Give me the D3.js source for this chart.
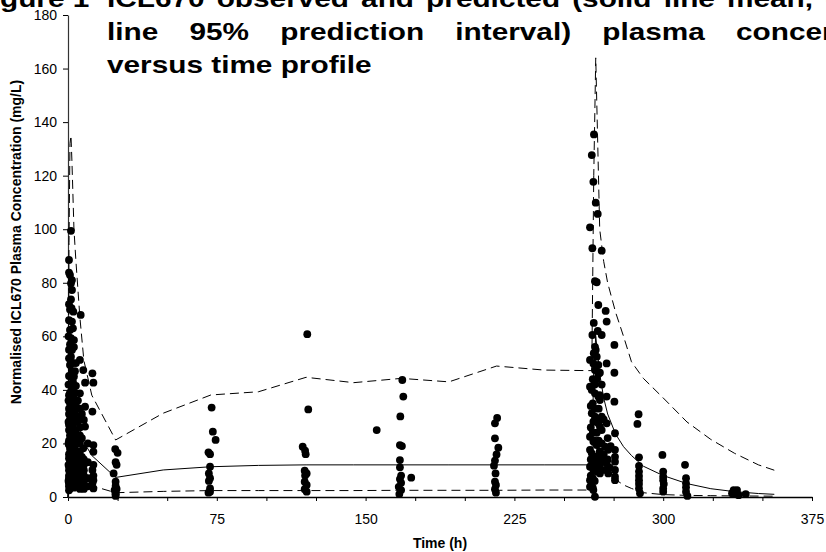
<!DOCTYPE html>
<html>
<head>
<meta charset="utf-8">
<script src="https://cdn.jsdelivr.net/npm/d3@7"></script>
<style>
  body { margin: 0; background: #fff; }
  text { font-family: "Liberation Sans", Arial, sans-serif; }
</style>
</head>
<body>
<script>
// chart size
var width = 826, height = 552;
var plotLeft = 68, plotRight = 812, plotTop = 15, plotBottom = 497;

// axis ticks
var xTicks = d3.range(0, 376, 25);
var xLabelEvery = 75;
var yTicks = d3.range(0, 181, 20);

// model prediction (mean and 95% prediction interval)
var predTime  = [0, 0.5, 1, 1.5, 2, 3, 4, 6, 8, 12, 24, 48, 72, 96, 120, 144, 168, 192, 216, 240,
                 262, 264, 265, 266, 268, 270, 272, 276, 280, 284, 290, 300, 312, 324, 336, 348, 356];
var predMean  = [0, 30, 42, 45, 43, 37, 32, 25, 20.5, 15.5, 7.3, 10.1, 11.3, 11.8, 12, 12, 12, 12, 12, 12,
                 12, 12, 48, 60, 46, 37, 31, 23.5, 18.8, 15.5, 11.5, 8, 5, 3.1, 2, 1.3, 1.0];
var predLower = [0, 5, 7, 8, 8, 7.5, 7, 5.8, 5, 4.2, 1.6, 2.1, 2.4, 2.4, 2.4, 2.4, 2.5, 2.5, 2.5, 2.6,
                 2.6, 2.6, 18, 22, 13, 10.5, 9, 6.5, 4.5, 3.2, 1.6, 0.9, 0.6, 0.5, 0.4, 0.35, 0.3];
var predUpper = [0, 95, 132, 135, 125, 100, 88, 67, 51, 38, 21.3, 31.3, 38.1, 39.3, 44.7, 42.7, 44.3, 43, 48.9, 47.4,
                 47.2, 47.2, 120, 164, 100, 88, 80, 69, 60, 50.5, 44.3, 37, 28, 21.5, 16.3, 12, 10];

// observed concentrations [time (h), conc (mg/L)]
var obsFirstDose = [
  [0.5,88.5],[0.5,83.8],[1,82.9],[0.5,72],[0.5,66],[1,62.4],[0.5,55],[0.5,51.8],[1,49.3],[0.5,45.2],
  [0.5,38],[1,35],[0.5,33],[0.5,31],[1,29],[0.5,27],[0.5,25],[1,23],[0.5,21],[0.5,19.5],[1,18],
  [0.5,16],[0.5,14.5],[1,13],[0.5,11.5],[0.5,10],[1,9],[0.5,8],[0.5,7],[1,6],[0.5,5],[0.5,4],[1,3.2],[0.5,2.5],
  [0.25,60],[0.25,42],[0.25,36],[0.25,28],[0.25,20],[0.25,12],[0.25,6],[1,70],[1,57],[1,42],[1,39],
  [1,26],[1,21],[1,16],[1,11],[1,7.5],[1,4.5],
  [1.5,99.4],[2,81],[1.5,79.8],[2,77.3],[1.5,73.8],[1.8,70.5],[2,65.5],[1.5,59.3],[2,54.9],[1.5,52.4],
  [2,47],[1.5,44.9],[2,40],[1.5,36],[2,33.5],[1.5,31],[2,28],[1.5,26],[2,24],[1.5,22],[2,20],[1.5,17.5],
  [2,15],[1.5,13],[2,11],[1.5,9.5],[2,8],[1.5,6.5],[2,5],[1.5,3.8],
  [2.5,63],[2.5,50],[2.5,43],[2.5,35],[2.5,27],[2.5,20],[2.5,14],[2.5,9],[2.5,4],
  [2.7,69.2],[3,58.6],[3,56],[4,50],[3,45],[4,41.5],[3,37],[4,34],[3,32],[4,30],[3,28],[4,25],[3,23],
  [4,21],[3,19],[4,17],[3,15],[4,13.5],[3,12],[4,10.5],[3,9],[4,7.5],[3,6],[4,4.5],[3,3.5],
  [3.5,47],[3.5,39],[3.5,31],[3.5,24],[3.5,18],[3.5,11],[3.5,6],
  [5,36],[5,28],[5,22],[5,16],[5,9],[5,5],
  [6.4,68],[6,51.2],[6,38.7],[6,33],[6,30],[6,26],[6,23],[6,20],[6,17],[6,14],[6,12],[6,10],[6,8],[6,6],[6,4.5],[6,3],
  [7,31],[7,22],[7,15],[7,9],[7,5],
  [7.7,47.4],[8.6,42.7],[8.6,33.7],[8,28.8],[8.6,26.3],[7.7,18.2],[8,14],[8,12],[8,10],[8,8],[8,6],[8,4],[8,3],
  [10,20],[10,13],[10,7],[10,4],
  [12.3,46.2],[12.8,42.7],[12.3,31.9],[12.8,19.4],[12.8,16.9],[12.8,12],[12.3,10.1],[12.8,8],[12.8,6.3],[12.3,5.1],[12.8,3.2]
];
var obsTroughs = [
  [23.8,17.9],[25,16.5],[24,13],[24.5,12],[23,8.8],[24,5.7],[24,4.1],[23.5,2.6],[24,1.4],[24,0.4],[24.5,3],[24,1],
  [72.4,33.4],[73,24.4],[74.4,21.3],[70.8,16.7],[71.6,16],[71.6,11.3],[71,8.8],[71.6,7],[71,6],[71.6,3.2],[71.6,2],[70.8,1.6],
  [120.6,60.8],[121.1,32.7],[118.3,18.8],[119.5,17.3],[119.8,16],[119.3,9.8],[120.3,8.8],[119.5,8],[119.3,5.7],[120.3,4.5],[119.3,2.9],[120.3,2],
  [155.6,25],
  [168.5,43.7],[169,37.5],[167.5,30.1],[167.3,19.4],[168.3,19],[167.3,13.8],[167.3,11.1],[167.9,8],[167.3,6.7],[167.9,5.3],[166.7,3.8],[167.9,2.6],[167,1.1],
  [173,7.2],
  [216.3,29.5],[215.2,27.5],[215.2,21.9],[216.9,18.4],[216,15.9],[215.2,13.6],[214.7,11.7],[215.5,8.8],[215.2,5.7],[215.7,4.5],[215.2,2.9],[215.7,1.6]
];
var obsSecondDose = [
  [265.1,135.4],[264,127.7],[264.8,117.7],[266,109.9],[267,105.7],[263.1,100.7],[264.3,92.9],[269,92],
  [265.6,80.6],[266.5,80.2],[267.3,71.7],[271,69.5],[271.5,65.5],[264.3,60.5],[269,60.5],[265.6,56.1],
  [266,54.9],[265,53.7],[266.5,52.4],[275.4,56.8],[263.1,51.2],[264.8,49.9],[267.3,49.3],[265.6,47.4],
  [268.1,46.4],[267.3,45.9],[271.5,49.9],[275.4,46.4],[263.1,41.2],[264,40],[265.6,38.7],[267.3,37.5],
  [268.1,36.2],[271.5,37.5],[275.4,35.6],[268,38],[264,31.3],[265.6,30],[264.8,28.1],[267.3,27.5],[268.1,26.3],
  [271.5,27.5],[269,30],[263.1,22.5],[264.8,20.7],[266.5,19.4],[269,20],[270.7,18.8],[272.3,17.6],
  [275.7,23.8],[263.1,17.6],[264,16.3],[265.6,15],[267.3,13.8],[269.8,15],[271.5,12.6],[275.7,17.6],
  [275.7,15],[275.7,13.2],[263.1,11.3],[264.8,10.1],[266.5,9.5],[268.1,8.8],[270.7,10.1],[272.3,8.8],
  [275.7,10.1],[275.7,7.6],[275.7,6.3],[263.1,6.3],[264,5.1],[263.1,3.8],[264.8,2.6],[265.6,0.1],
  [263.5,34],[263.5,26],[263.5,14],[263.5,8],[264.5,44],[264.5,35],[264.5,24],[264.5,12.5],[264.5,7],[264.5,3.5],
  [265,65],[265.5,42],[265.5,33],[265.5,21],[265.5,11],[265.5,6],[266.5,44],[266.5,29],[266.5,24],[266.5,15],
  [266.5,12],[267,62],[267.5,33],[267.5,21],[268,17],[268,11],[269,42],[269,25],[269,13],[270,29],[270,16],
  [272,22],[272,14],[273,11],[273.5,19]
];
var obsWashout = [
  [287.6,30.9],[287,27.3],[287.8,14.8],[287.8,11.6],[287.8,9.5],[287.8,7.8],[287.8,6.3],[287.8,4.9],[287.8,3.2],[288.3,1.4],
  [299.6,15.7],[300,9.5],[300,7.6],[300,6.3],[300.3,4.9],[300,3.2],[300,2],
  [311,12],[311.5,7],[311.5,5.1],[311.5,3.6],[311.5,2],[312.2,0.4],
  [335.5,2.6],[337.2,2.6],[334.7,1.4],[336.4,1.4],[338,0.7],[341.6,1.1]
];

var svg = d3.select("body").append("svg")
    .attr("width", width)
    .attr("height", height);

svg.append("rect").attr("width", width).attr("height", height).attr("fill", "#fff");

var x = d3.scaleLinear().domain([0, 375]).range([plotLeft, plotRight]);
var y = d3.scaleLinear().domain([0, 180]).range([plotBottom, plotTop]);

// axes
var xAxis = d3.axisBottom(x)
    .tickValues(xTicks)
    .tickSize(4)
    .tickSizeOuter(0)
    .tickPadding(13)
    .tickFormat(function(d) { return d % xLabelEvery === 0 ? d : ""; });

var yAxis = d3.axisLeft(y)
    .tickValues(yTicks)
    .tickSize(5)
    .tickSizeOuter(0)
    .tickPadding(6);

var gx = svg.append("g").attr("transform", "translate(0," + plotBottom + ")").call(xAxis);
var gy = svg.append("g").attr("transform", "translate(" + plotLeft + ",0)").call(yAxis);

[gx, gy].forEach(function(g) {
  g.selectAll("text")
    .attr("fill", "#000")
    .style("font-size", "14px")
    .style("font-family", '"Liberation Sans", Arial, sans-serif');
  g.selectAll("line").attr("stroke", "#000");
});
gx.select(".domain").attr("stroke", "#000").attr("stroke-width", 1.5);
gy.select(".domain").attr("stroke", "#333").attr("stroke-width", 1.2);

// axis titles
svg.append("text")
    .attr("x", (plotLeft + plotRight) / 2)
    .attr("y", 548)
    .attr("text-anchor", "middle")
    .style("font-size", "14px")
    .style("font-weight", "bold")
    .text("Time (h)");

svg.append("text")
    .attr("transform", "translate(20.5,242) rotate(-90)")
    .attr("text-anchor", "middle")
    .style("font-size", "14px")
    .style("font-weight", "bold")
    .text("Normalised ICL670 Plasma Concentration (mg/L)");

// prediction lines
function makeLine(values) {
  return d3.line()
    .x(function(d, i) { return x(predTime[i]); })
    .y(function(d) { return y(d); })(values);
}

svg.append("path").attr("d", makeLine(predMean))
    .attr("fill", "none").attr("stroke", "#000").attr("stroke-width", 1);
svg.append("path").attr("d", makeLine(predLower))
    .attr("fill", "none").attr("stroke", "#000").attr("stroke-width", 1).attr("stroke-dasharray", "9,5");
svg.append("path").attr("d", makeLine(predUpper))
    .attr("fill", "none").attr("stroke", "#000").attr("stroke-width", 1).attr("stroke-dasharray", "9,5");

// observed points
var allObs = obsFirstDose.concat(obsTroughs, obsSecondDose, obsWashout);
svg.append("g").selectAll("circle")
    .data(allObs)
    .enter().append("circle")
    .attr("cx", function(d) { return x(d[0]); })
    .attr("cy", function(d) { return y(d[1]); })
    .attr("r", 3.9)
    .attr("fill", "#000");

// title: the source font is wider than Arial, so stretch each word;
// the paragraph is justified and runs off the page
var titleSize = 24, titleStretch = 1.24;
var title = svg.append("g").style("font-size", titleSize + "px").style("font-weight", "bold");

function wideText(str, px, py) {
  var t = title.append("text").attr("x", px).attr("y", py).text(str);
  var w = t.node().getComputedTextLength() * titleStretch;
  t.attr("textLength", w).attr("lengthAdjust", "spacingAndGlyphs");
  return w;
}
function justifiedLine(words, startX, baseY, gap) {
  var cx = startX;
  words.forEach(function(w) {
    cx += wideText(w, cx, baseY) + gap;
  });
}
wideText("Figure 1", -26.5, 6.5);
justifiedLine(["ICL670", "observed", "and", "predicted", "(solid", "line", "mean,", "dashed"], 107, 6.5, 12.1);
justifiedLine(["line", "95%", "prediction", "interval)", "plasma", "concentration"], 107, 40, 31.2);
wideText("versus time profile", 107, 73);
</script>
</body>
</html>
